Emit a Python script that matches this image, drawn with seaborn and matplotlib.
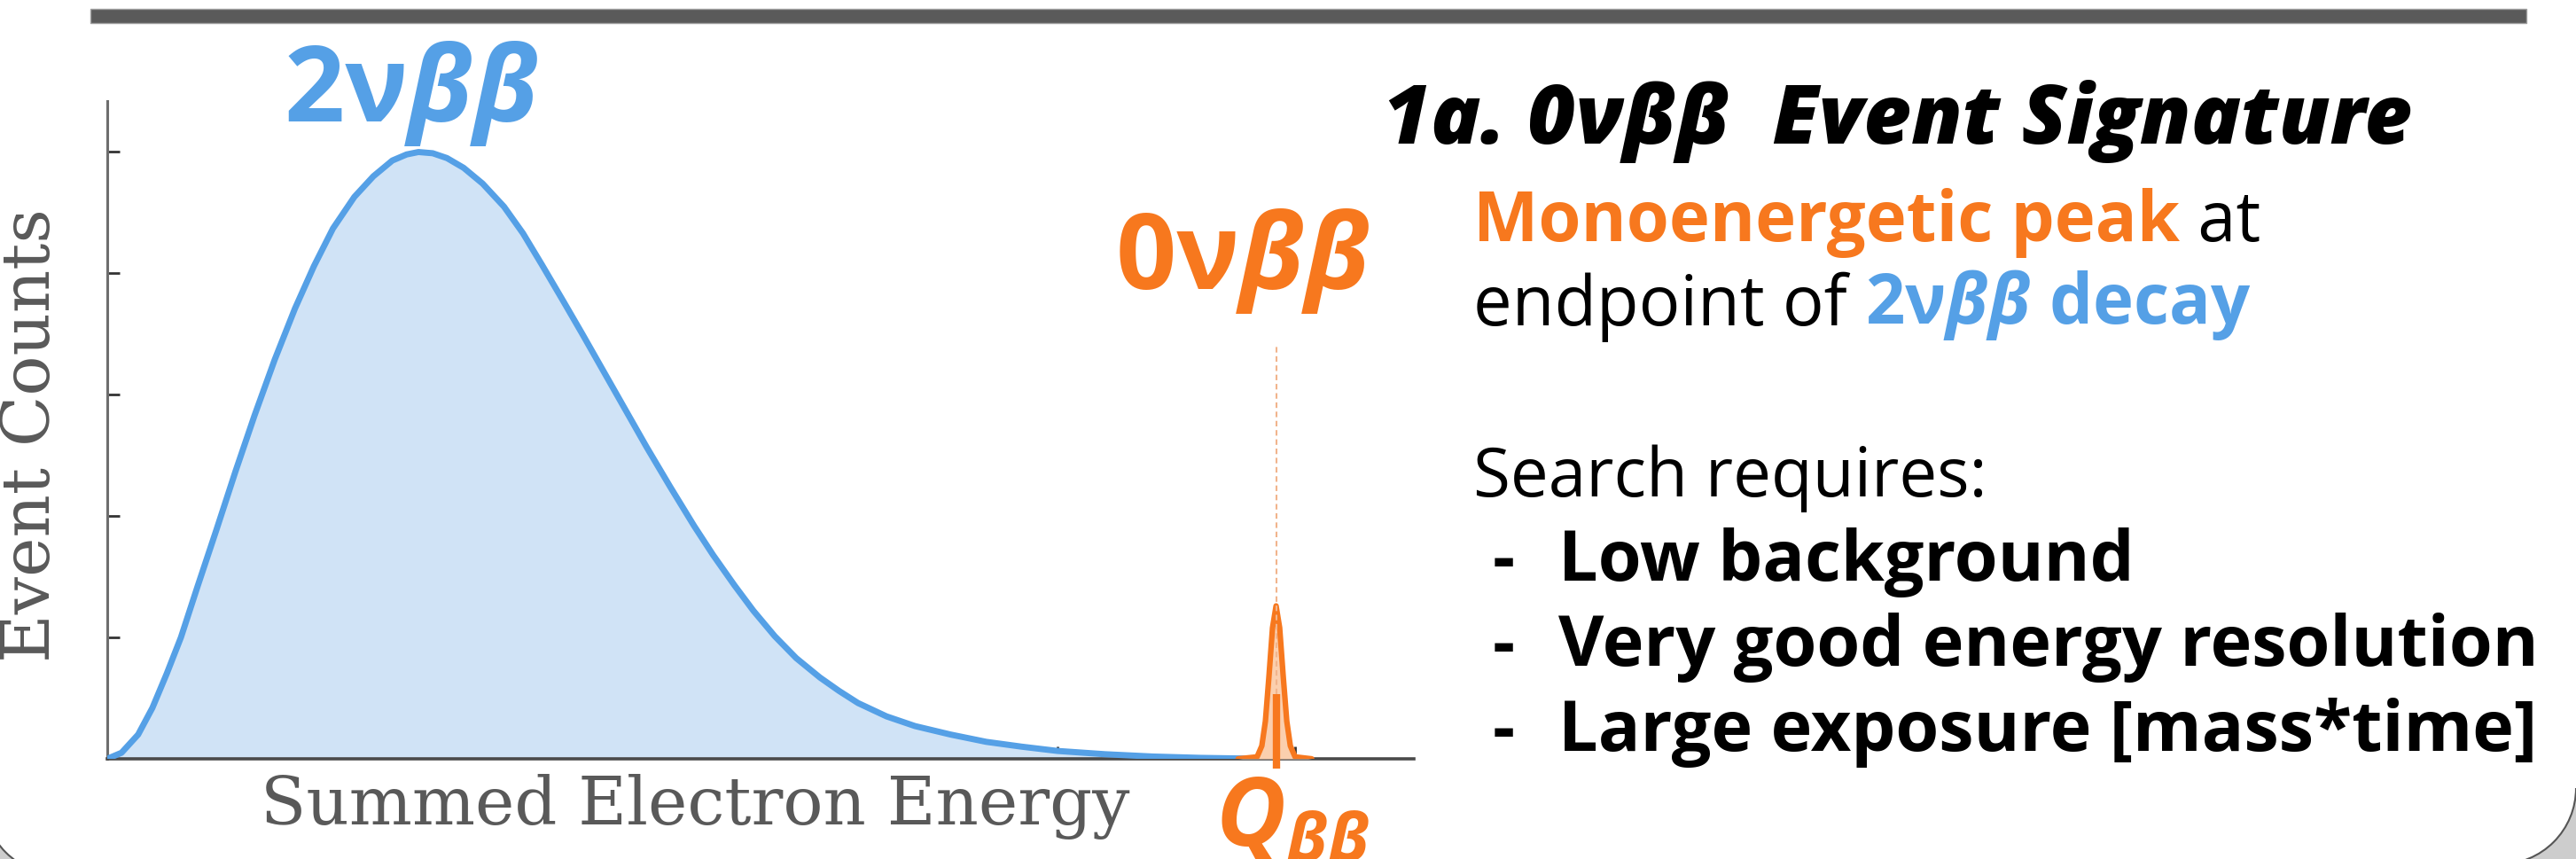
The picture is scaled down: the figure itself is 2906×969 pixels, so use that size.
# Slide figure: 0vbb event signature sketch (2vbb continuum + 0vbb peak at Q)
import matplotlib
matplotlib.use("Agg")
import matplotlib.pyplot as plt
import matplotlib.patches as mpatches
import seaborn as sns

# Values, in tick units (ticks sit at 1..5 on both axes)
energy_2v = [0, 0.06, 0.13, 0.19, 0.25, 0.31, 0.38, 0.46, 0.54, 0.62, 0.705,
             0.79, 0.87, 0.95, 1.04, 1.12, 1.2, 1.26, 1.31, 1.37, 1.43, 1.5,
             1.58, 1.67, 1.75, 1.83, 1.92, 2.0, 2.09, 2.18, 2.27, 2.37, 2.47,
             2.55, 2.64, 2.72, 2.81, 2.9, 3.0, 3.08, 3.16, 3.28, 3.4, 3.55,
             3.7, 3.85, 4.0, 4.2, 4.4, 4.6, 4.8, 4.92]
counts_2v = [0, 0.05, 0.20, 0.42, 0.70, 1.0, 1.42, 1.89, 2.37, 2.83, 3.29,
             3.71, 4.06, 4.37, 4.63, 4.80, 4.93, 4.98, 5.0, 4.99, 4.95, 4.87,
             4.74, 4.55, 4.33, 4.07, 3.77, 3.50, 3.19, 2.88, 2.57, 2.24, 1.92,
             1.68, 1.43, 1.22, 1.01, 0.83, 0.67, 0.56, 0.46, 0.35, 0.27, 0.20,
             0.14, 0.10, 0.065, 0.038, 0.019, 0.008, 0.002, 0]

energy_0v = [4.76, 4.84, 4.86, 4.875, 4.89, 4.905, 4.92, 4.935, 4.95, 4.965,
             4.98, 5.0, 5.07]
counts_0v = [0, 0.016, 0.107, 0.31, 0.68, 1.08, 1.26, 1.08, 0.68, 0.31,
             0.107, 0.016, 0]

q_value = 4.92
dash_top = 3.42
x_ticks = [1, 2, 3, 4, 5]
y_ticks = [1, 2, 3, 4, 5]

bullets = ["Low background", "Very good energy resolution",
           "Large exposure [mass*time]"]

blue = "#55a0e6"
blue_fill = "#d0e3f6"
orange = "#f7781e"
orange_fill = "#fbcfae"
orange_dash = "#f1b48c"
label_grey = "#595959"

sns.set_theme(style="ticks")
plt.rcParams["font.family"] = ["Open Sans", "DejaVu Sans"]
plt.rcParams["text.color"] = "black"
plt.rcParams["mathtext.fontset"] = "custom"
plt.rcParams["mathtext.rm"] = "Open Sans:bold"
plt.rcParams["mathtext.it"] = "Open Sans:italic:bold"
plt.rcParams["mathtext.bf"] = "Open Sans:bold"

fig = plt.figure(figsize=(29.06, 9.70), dpi=100)

# background layer in pixel units for the slide decoration and side text
bg = fig.add_axes([0, 0, 1, 1], zorder=0)
bg.set_xlim(0, 2906)
bg.set_ylim(970, 0)
bg.axis("off")

bg.add_patch(mpatches.Rectangle((102, 11), 2748, 16, facecolor="#5a5a5a",
                                edgecolor="#a0a0a0", lw=1))

# rounded panel corners peeking in at the bottom
bg.add_patch(mpatches.Rectangle((2820, 890), 100, 100, facecolor="#cdcdcd", lw=0))
bg.add_patch(mpatches.Wedge((2820, 890), 86, 0, 90, facecolor="white", lw=0))
bg.add_patch(mpatches.Arc((2820, 890), 172, 172, theta1=0, theta2=90,
                          color="#555555", lw=1.5))
bg.add_patch(mpatches.Rectangle((-30, 901), 98, 100, facecolor="#cdcdcd", lw=0))
bg.add_patch(mpatches.Wedge((68, 901), 87, 90, 180, facecolor="white", lw=0))
bg.add_patch(mpatches.Arc((68, 901), 174, 174, theta1=90, theta2=180,
                          color="#555555", lw=1.5))

# right-hand text block
bg.text(1560, 162, "1a. 0νββ  Event Signature", fontsize=67,
        fontweight="heavy", fontstyle="italic", color="black", va="baseline")

t = bg.text(1662, 272, "Monoenergetic peak", fontsize=56, fontweight="bold",
            color=orange, va="baseline")
bg.annotate(" at", xycoords=t, xy=(1, 0), va="bottom", fontsize=56,
            color="black")

t = bg.text(1662, 367, "endpoint of ", fontsize=56, color="black",
            va="baseline")
bg.annotate(r"$\mathrm{2\nu}\beta\beta$ decay", xycoords=t, xy=(1, 0),
            va="bottom", fontsize=56, fontweight="bold", color=blue)

bg.text(1662, 560, "Search requires:", fontsize=55, color="black",
        va="baseline")
for i, item in enumerate(bullets):
    y = 655 + i * 96
    bg.text(1684, y, "-", fontsize=56, fontweight="bold", color="black",
            va="baseline")
    bg.text(1758, y, item, fontsize=57, fontweight="bold", color="black",
            va="baseline")

# main spectrum axes
ax = fig.add_axes([121 / 2906, 113 / 970, 1474 / 2906, 742 / 970], zorder=1)
ax.patch.set_alpha(0)

ax.fill_between(energy_2v, counts_2v, color=blue_fill, lw=0, zorder=2)
sns.lineplot(x=energy_2v, y=counts_2v, ax=ax, color=blue, linewidth=5,
             sort=False, zorder=3)
ax.fill_between(energy_0v, counts_0v, color=orange_fill, lw=0, zorder=4)
sns.lineplot(x=energy_0v, y=counts_0v, ax=ax, color=orange, linewidth=4.5,
             sort=False, zorder=5)
ax.plot([q_value, q_value], [0, dash_top], ls=(0, (3, 2)), color=orange_dash,
        lw=1.5, zorder=6)
ax.plot([q_value, q_value], [-0.08, 0.53], color=orange, lw=6,
        solid_capstyle="butt", clip_on=False, zorder=7)

ax.text(1.28, 5.26, r"$\mathrm{2\nu}\beta\beta$", fontsize=86, color=blue,
        ha="center", va="baseline")
ax.text(4.78, 3.88, r"$\mathrm{0\nu}\beta\beta$", fontsize=86, color=orange,
        ha="center", va="baseline")
ax.text(4.99, -0.71, r"$Q_{\beta\beta}$", fontsize=78, color=orange,
        ha="center", va="baseline")

ax.set_xlim(0, 5.5)
ax.set_ylim(0, 5.42)
ax.set_xticks(x_ticks)
ax.set_yticks(y_ticks)
ax.set_xticklabels([])
ax.set_yticklabels([])
ax.tick_params(direction="in", length=10, width=2, color="#333333")
sns.despine(ax=ax)
ax.spines["left"].set_color("#6e6e6e")
ax.spines["left"].set_linewidth(2.2)
ax.spines["bottom"].set_color("#4a4a4a")
ax.spines["bottom"].set_linewidth(2.6)

ax.set_xlabel("Summed Electron Energy", fontfamily="DejaVu Serif",
              fontsize=54, color=label_grey)
ax.set_ylabel("Event Counts", fontfamily="DejaVu Serif", fontsize=54,
              color=label_grey)
ax.xaxis.set_label_coords(0.45, -0.022)
ax.yaxis.set_label_coords(-0.033, 0.493)

fig.savefig("out.png", dpi=100)
